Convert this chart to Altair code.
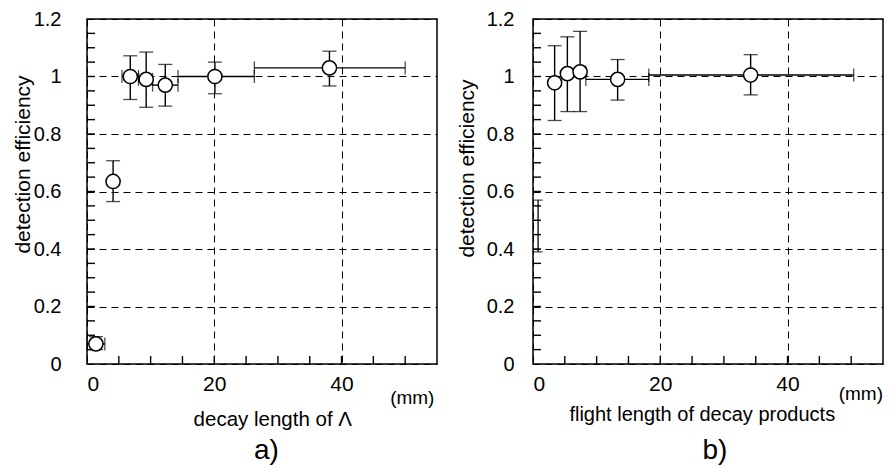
import altair as alt
import pandas as pd

# ---- panel a) data ----
a_x = [1.4, 4.1, 6.8, 9.3, 12.3, 20.1, 38.1]
a_y = [0.07, 0.635, 1.0, 0.99, 0.97, 1.0, 1.03]
a_ylo = [0.05, 0.565, 0.92, 0.893, 0.897, 0.94, 0.967]
a_yhi = [0.095, 0.707, 1.072, 1.085, 1.042, 1.05, 1.088]
a_xlo = [0.0, 4.1, 5.5, 8.1, 10.3, 14.3, 26.3]
a_xhi = [2.8, 4.1, 8.1, 10.3, 14.3, 26.3, 50.0]

# ---- panel b) data ----
b_x = [3.4, 5.4, 7.4, 13.3, 34.2]
b_y = [0.978, 1.01, 1.016, 0.99, 1.005]
b_ylo = [0.847, 0.878, 0.878, 0.918, 0.936]
b_yhi = [1.107, 1.138, 1.157, 1.059, 1.076]
b_xlo = [3.4, 5.4, 7.4, 8.3, 18.2]
b_xhi = [3.4, 5.4, 8.3, 18.2, 50.4]
# point whose marker sits on the axis (only its error bar is visible)
b_bar_x = [0.8]
b_bar_lo = [0.39]
b_bar_hi = [0.57]

x_major = [0, 20, 40]
x_minor = [5.0, 10.0, 15.0, 20.0, 25.0, 30.0, 35.0, 40.0, 45.0, 50.0]
y_major = [0, 0.2, 0.4, 0.6, 0.8, 1.0, 1.2]
y_minor = [0.05, 0.1, 0.15, 0.2, 0.25, 0.3, 0.35, 0.4, 0.45, 0.5, 0.55,
           0.6, 0.65, 0.7, 0.75, 0.8, 0.85, 0.9, 0.95, 1.0, 1.05, 1.1, 1.15]

W, H = 350, 345
FONT = "Liberation Sans"
XDOM = [0.0, 55.0]
YDOM = [0.0, 1.2]
TICK_PX = 8
XTICK_LEN = TICK_PX * (YDOM[1] - YDOM[0]) / H   # in y data units
YTICK_LEN = TICK_PX * (XDOM[1] - XDOM[0]) / W   # in x data units


def panel(xs, ys, ylo, yhi, xlo, xhi, xtitle, tag, xt_pos, mm_pos, tag_pos,
          title_x, title_y, label_pad, xt_size, bar=None):
    pts = pd.DataFrame({"x": xs, "y": ys, "ylo": ylo, "yhi": yhi,
                        "xlo": xlo, "xhi": xhi})
    xs_scale = alt.Scale(domain=XDOM, nice=False, zero=False)
    ys_scale = alt.Scale(domain=YDOM, nice=False, zero=False)

    xaxis = alt.Axis(values=x_major, grid=True, gridDash=[7, 5],
                     gridColor="black", gridWidth=1, gridOpacity=1,
                     domain=False, ticks=False, tickSize=0, labelFontSize=21,
                     labelFont=FONT, labelColor="black", labelPadding=9,
                     format="d", title=None)
    yaxis = alt.Axis(values=y_major, grid=True, gridDash=[7, 5],
                     gridColor="black", gridWidth=1, gridOpacity=1,
                     domain=False, ticks=False, tickSize=0, labelFontSize=20,
                     labelFont=FONT, labelColor="black",
                     labelPadding=label_pad, format="~g",
                     minExtent=50, maxExtent=50,
                     title="detection efficiency", titleFont=FONT,
                     titleFontSize=21, titleFontWeight="normal",
                     titleColor="black", titleX=title_x, titleY=title_y,
                     titleAngle=-90, titleBaseline="bottom",
                     titleAlign="center")

    base = alt.Chart(pts)

    # axes carrier (invisible)
    carrier = base.mark_point(opacity=0).encode(
        x=alt.X("x:Q", scale=xs_scale, axis=xaxis),
        y=alt.Y("y:Q", scale=ys_scale, axis=yaxis),
    )

    # vertical segments: error bars + inward minor ticks on the bottom edge
    vdf = pd.concat([
        pts[["x", "ylo", "yhi"]],
        pd.DataFrame({"x": x_minor,
                      "ylo": [YDOM[0]] * len(x_minor),
                      "yhi": [YDOM[0] + XTICK_LEN] * len(x_minor)}),
    ], ignore_index=True)
    vbar = alt.Chart(vdf).mark_rule(color="black", strokeWidth=1.4).encode(
        x=alt.X("x:Q", scale=xs_scale), y=alt.Y("ylo:Q", scale=ys_scale),
        y2="yhi:Q")

    # horizontal segments: error bars + inward minor ticks on the left edge
    hpts = pts[pts["xhi"] > pts["xlo"]]
    hdf = pd.concat([
        hpts[["y", "xlo", "xhi"]],
        pd.DataFrame({"y": y_minor,
                      "xlo": [XDOM[0]] * len(y_minor),
                      "xhi": [XDOM[0] + YTICK_LEN] * len(y_minor)}),
    ], ignore_index=True)
    hbar = alt.Chart(hdf).mark_rule(color="black", strokeWidth=1.4).encode(
        x=alt.X("xlo:Q", scale=xs_scale), x2="xhi:Q",
        y=alt.Y("y:Q", scale=ys_scale))

    vcap_lo = base.mark_tick(orient="horizontal", size=14, thickness=1.3,
                             color="black").encode(
        x=alt.X("x:Q", scale=xs_scale), y=alt.Y("ylo:Q", scale=ys_scale))
    vcap_hi = base.mark_tick(orient="horizontal", size=14, thickness=1.3,
                             color="black").encode(
        x=alt.X("x:Q", scale=xs_scale), y=alt.Y("yhi:Q", scale=ys_scale))

    hb = base.transform_filter("datum.xhi > datum.xlo")
    hcap_lo = hb.mark_tick(orient="vertical", size=13, thickness=1.3,
                           color="black").encode(
        x=alt.X("xlo:Q", scale=xs_scale), y=alt.Y("y:Q", scale=ys_scale))
    hcap_hi = hb.mark_tick(orient="vertical", size=13, thickness=1.3,
                           color="black").encode(
        x=alt.X("xhi:Q", scale=xs_scale), y=alt.Y("y:Q", scale=ys_scale))

    circles = base.mark_point(shape="circle", size=200, filled=True,
                              fill="white", stroke="black",
                              strokeWidth=1.5, opacity=1).encode(
        x=alt.X("x:Q", scale=xs_scale), y=alt.Y("y:Q", scale=ys_scale))

    layers = [carrier, hbar, hcap_lo, hcap_hi, vbar, vcap_lo, vcap_hi]

    if bar is not None:
        bdf = pd.DataFrame({"x": bar[0], "lo": bar[1], "hi": bar[2]})
        bb = alt.Chart(bdf)
        layers += [
            bb.mark_rule(color="black", strokeWidth=1.3).encode(
                x=alt.X("x:Q", scale=xs_scale),
                y=alt.Y("lo:Q", scale=ys_scale), y2="hi:Q"),
            bb.mark_tick(orient="horizontal", size=9, thickness=1.3,
                         color="black").encode(
                x=alt.X("x:Q", scale=xs_scale),
                y=alt.Y("lo:Q", scale=ys_scale)),
            bb.mark_tick(orient="horizontal", size=9, thickness=1.3,
                         color="black").encode(
                x=alt.X("x:Q", scale=xs_scale),
                y=alt.Y("hi:Q", scale=ys_scale)),
        ]

    layers.append(circles)

    txt = pd.DataFrame({"t": [xtitle, "(mm)", tag],
                        "x": [xt_pos[0], mm_pos[0], tag_pos[0]]})
    layers.append(alt.Chart(txt.iloc[[0]]).mark_text(
        font=FONT, fontSize=xt_size, color="black", baseline="middle").encode(
        x=alt.X("x:Q", scale=xs_scale), y=alt.value(xt_pos[1]), text="t:N"))
    layers.append(alt.Chart(txt.iloc[[1]]).mark_text(
        font=FONT, fontSize=19, color="black", baseline="middle",
        align="right").encode(
        x=alt.X("x:Q", scale=xs_scale), y=alt.value(mm_pos[1]), text="t:N"))
    layers.append(alt.Chart(txt.iloc[[2]]).mark_text(
        font=FONT, fontSize=28, color="black", baseline="middle").encode(
        x=alt.X("x:Q", scale=xs_scale), y=alt.value(tag_pos[1]), text="t:N"))

    return alt.layer(*layers).properties(width=W, height=H)


left = panel(a_x, a_y, a_ylo, a_yhi, a_xlo, a_xhi,
             "decay length of \u039b", "a)",
             xt_pos=(29.2, H + 56), mm_pos=(54.6, H + 34),
             tag_pos=(28.2, H + 87), title_x=-54, title_y=145, label_pad=26,
             xt_size=20.5)
right = panel(b_x, b_y, b_ylo, b_yhi, b_xlo, b_xhi,
              "flight length of decay products", "b)",
              xt_pos=(26.6, H + 51), mm_pos=(55.0, H + 30),
              tag_pos=(28.6, H + 87), title_x=-56, title_y=149, label_pad=19,
              xt_size=20, bar=(b_bar_x, b_bar_lo, b_bar_hi))

chart = alt.hconcat(left, right, spacing=17).properties(
    padding={"left": 3, "top": 0, "right": 0, "bottom": 0},
    background="white",
).configure_view(stroke="black", strokeWidth=1.5)

chart.save("out.html", embed_options={"renderer": "svg", "actions": False})
